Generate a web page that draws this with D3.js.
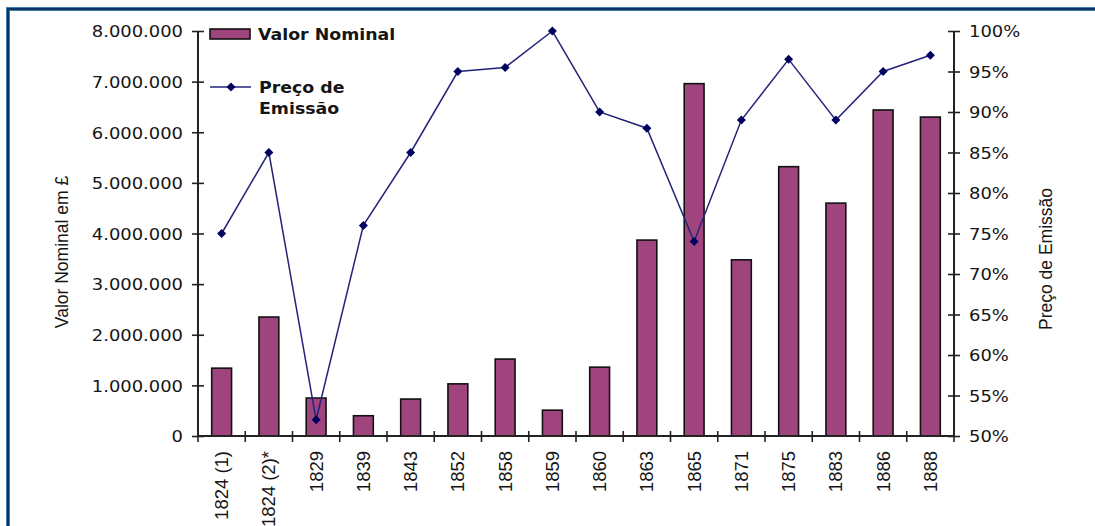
<!DOCTYPE html>
<html>
<head>
<meta charset="utf-8">
<script src="https://cdn.jsdelivr.net/npm/d3@7"></script>
<style>
  html, body { margin: 0; padding: 0; background: #fff; }
  svg { display: block; }
</style>
</head>
<body>
<svg id="chart" width="1095" height="526"></svg>
<script>
const categories = ["1824 (1)", "1824 (2)*", "1829", "1839", "1843", "1852", "1858", "1859", "1860", "1863", "1865", "1871", "1875", "1883", "1886", "1888"];
const valorNominal = [1340000, 2350000, 750000, 400000, 730000, 1030000, 1520000, 510000, 1360000, 3870000, 6960000, 3480000, 5320000, 4600000, 6440000, 6300000];
const precoEmissao = [75, 85, 52, 76, 85, 95, 95.5, 100, 90, 88, 74, 89, 96.5, 89, 95, 97];
const leftTicks = [0, 1000000, 2000000, 3000000, 4000000, 5000000, 6000000, 7000000, 8000000];
const rightTicks = [50, 55, 60, 65, 70, 75, 80, 85, 90, 95, 100];
const seriesNames = ["Valor Nominal", "Preço de", "Emissão"];
const axisTitles = ["Valor Nominal em £", "Preço de Emissão"];

const svg = d3.select("#chart");
const X0 = 198, X1 = 954, Y0 = 436, Y1 = 31;
const barColor = "#A0447E";
const lineColor = "#24247a";
const markColor = "#00005e";
const textColor = "#151515";

// frame
svg.append("path").attr("d", "M8,526 V9 H1095").attr("fill", "none")
  .attr("stroke", "#3f7fae").attr("stroke-width", 4);
svg.append("path").attr("d", "M8,526 V9 H1095").attr("fill", "none")
  .attr("stroke", "#0b3566").attr("stroke-width", 2);

const x = d3.scaleBand().domain(categories).range([X0, X1]).paddingInner(0.58).paddingOuter(0.29);
const xb = d3.scaleBand().domain(categories).range([X0, X1]);
const yL = d3.scaleLinear().domain([0, 8000000]).range([Y0, Y1]);
const yR = d3.scaleLinear().domain([50, 100]).range([Y0, Y1]);

const fmt = v => d3.format(",")(v).replace(/,/g, ".");
const SX = 1.1;

// bars
svg.append("g").selectAll("rect").data(valorNominal).join("rect")
  .attr("x", (d, i) => x(categories[i]))
  .attr("y", d => yL(d))
  .attr("width", x.bandwidth())
  .attr("height", d => Y0 - yL(d))
  .attr("fill", barColor).attr("stroke", "#111").attr("stroke-width", 1.6);

// left axis
const gL = svg.append("g").attr("transform", `translate(${X0},0)`)
  .call(d3.axisLeft(yL).tickValues(leftTicks).tickFormat(fmt).tickSize(6).tickPadding(0));
gL.select(".domain").attr("stroke", "#222").attr("stroke-width", 2).attr("d", `M0,${Y0}V${Y1}`);
gL.selectAll(".tick line").attr("x1", -6).attr("x2", 6).attr("stroke", "#222").attr("stroke-width", 1.6);
gL.selectAll(".tick text").attr("x", null).attr("dy", "0.36em")
  .attr("transform", `translate(-15,0) scale(${SX},1)`)
  .attr("font-family", "DejaVu Sans").attr("font-size", 16.3).attr("fill", textColor);

// right axis
const gR = svg.append("g").attr("transform", `translate(${X1},0)`)
  .call(d3.axisRight(yR).tickValues(rightTicks).tickFormat(d => d + "%").tickSize(6).tickPadding(0));
gR.select(".domain").attr("stroke", "#222").attr("stroke-width", 2).attr("d", `M0,${Y0}V${Y1}`);
gR.selectAll(".tick line").attr("x1", -6).attr("x2", 6).attr("stroke", "#222").attr("stroke-width", 1.6);
gR.selectAll(".tick text").attr("x", null).attr("dy", "0.36em")
  .attr("transform", `translate(15,0) scale(${SX},1)`)
  .attr("font-family", "DejaVu Sans").attr("font-size", 16.3).attr("fill", textColor);

// bottom axis
const gB = svg.append("g");
gB.append("line").attr("x1", X0).attr("x2", X1).attr("y1", Y0).attr("y2", Y0)
  .attr("stroke", "#222").attr("stroke-width", 2);
const edges = categories.map(c => xb(c)).concat([xb(categories[categories.length - 1]) + xb.bandwidth()]);
gB.selectAll("line.t").data(edges).join("line").attr("class", "t")
  .attr("x1", d => d).attr("x2", d => d).attr("y1", Y0 - 5).attr("y2", Y0 + 6)
  .attr("stroke", "#222").attr("stroke-width", 1.6);
gB.selectAll("text").data(categories).join("text")
  .attr("transform", d => `translate(${xb(d) + xb.bandwidth() / 2},${Y0 + 15}) rotate(-90)`)
  .attr("text-anchor", "end").attr("dy", "0.35em")
  .attr("font-family", "Liberation Sans").attr("font-size", 18.5).attr("fill", textColor)
  .text(d => d);

// line series
const lineGen = d3.line().x((d, i) => xb(categories[i]) + xb.bandwidth() / 2).y(d => yR(d));
svg.append("path").datum(precoEmissao).attr("d", lineGen)
  .attr("fill", "none").attr("stroke", lineColor).attr("stroke-width", 1.5);
const diamond = d3.symbol().type(d3.symbolDiamond2).size(52);
svg.append("g").selectAll("path").data(precoEmissao).join("path")
  .attr("d", diamond)
  .attr("transform", (d, i) => `translate(${xb(categories[i]) + xb.bandwidth() / 2},${yR(d)})`)
  .attr("fill", markColor);

// legend
const lg = svg.append("g");
lg.append("rect").attr("x", 210).attr("y", 29).attr("width", 40).attr("height", 10)
  .attr("fill", barColor).attr("stroke", "#111").attr("stroke-width", 1.6);
lg.append("text").attr("transform", `translate(258,40) scale(${SX},1)`)
  .attr("font-family", "DejaVu Sans").attr("font-weight", "bold").attr("font-size", 15.8).attr("fill", textColor)
  .text(seriesNames[0]);
lg.append("line").attr("x1", 210).attr("x2", 251).attr("y1", 87).attr("y2", 87)
  .attr("stroke", lineColor).attr("stroke-width", 1.5);
lg.append("path").attr("d", diamond).attr("transform", "translate(231,87)").attr("fill", markColor);
lg.append("text").attr("transform", `translate(259,93) scale(${SX},1)`)
  .attr("font-family", "DejaVu Sans").attr("font-weight", "bold").attr("font-size", 15.8).attr("fill", textColor)
  .text(seriesNames[1]);
lg.append("text").attr("transform", `translate(259,114) scale(${SX},1)`)
  .attr("font-family", "DejaVu Sans").attr("font-weight", "bold").attr("font-size", 15.8).attr("fill", textColor)
  .text(seriesNames[2]);

// axis titles
svg.append("text").attr("transform", "translate(62,252) rotate(-90)")
  .attr("text-anchor", "middle").attr("dy", "0.35em")
  .attr("font-family", "Liberation Sans").attr("font-size", 17.5).attr("fill", textColor)
  .text(axisTitles[0]);
svg.append("text").attr("transform", "translate(1046,259) rotate(-90)")
  .attr("text-anchor", "middle").attr("dy", "0.35em")
  .attr("font-family", "Liberation Sans").attr("font-size", 17.5).attr("fill", textColor)
  .text(axisTitles[1]);
</script>
</body>
</html>
